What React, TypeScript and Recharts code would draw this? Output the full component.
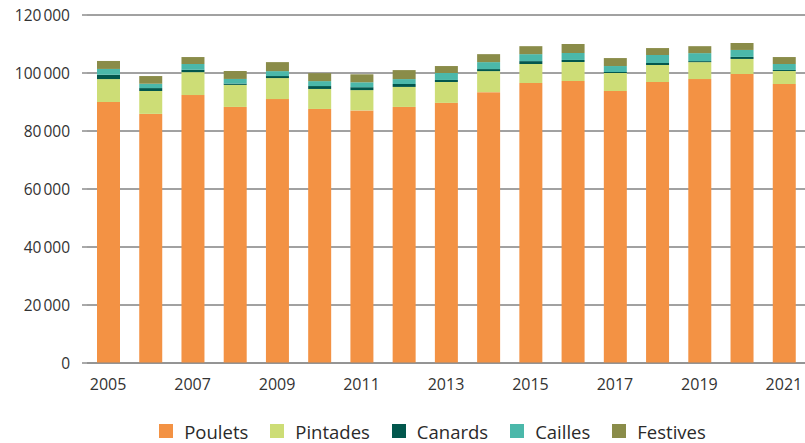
import React from 'react'
import { BarChart, Bar, XAxis, YAxis, CartesianGrid, Legend } from 'recharts'

const years = ['2005', '2006', '2007', '2008', '2009', '2010', '2011', '2012', '2013', '2014', '2015', '2016', '2017', '2018', '2019', '2020', '2021']
const poulets = [90000, 85900, 92400, 88300, 91000, 87600, 87100, 88300, 89700, 93400, 96550, 97250, 93800, 96900, 97900, 99650, 96200]
const pintades = [7900, 7900, 7900, 7600, 7250, 6900, 7000, 6900, 7200, 7250, 6550, 6550, 6200, 5850, 5850, 5200, 4500]
const canards = [1500, 1000, 800, 450, 700, 1000, 1000, 1000, 700, 700, 1000, 700, 350, 700, 350, 700, 350]
const cailles = [2000, 1500, 2000, 1600, 1700, 1700, 1700, 1700, 2400, 2400, 2400, 2400, 2050, 2750, 2750, 2400, 2050]
const festives = [2750, 2650, 2400, 2750, 3100, 2750, 2750, 3100, 2400, 2750, 2750, 3100, 2750, 2400, 2400, 2400, 2400]
const yTicks = [0, 20000, 40000, 60000, 80000, 100000, 120000]

const SERIES = [
  { key: 'Poulets', color: '#F39244' },
  { key: 'Pintades', color: '#CDDD76' },
  { key: 'Canards', color: '#02574D' },
  { key: 'Cailles', color: '#4BB8AA' },
  { key: 'Festives', color: '#8A8C49' },
]

const data = years.map((y, i) => ({
  year: y,
  Poulets: poulets[i],
  Pintades: pintades[i],
  Canards: canards[i],
  Cailles: cailles[i],
  Festives: festives[i],
}))

const FONT = '"Open Sans", sans-serif'

// french thousands separator (narrow space)
const fmt = (v: number) => (v === 0 ? '0' : v.toLocaleString('fr-FR'))

function LegendBox() {
  return (
    <div style={{ height: 50, paddingTop: 26, paddingLeft: 60, boxSizing: 'border-box', display: 'flex', justifyContent: 'center', gap: 22, fontFamily: FONT }}>
      {SERIES.map((s) => (
        <div key={s.key} style={{ display: 'flex', alignItems: 'center', height: 24 }}>
          <span style={{ width: 14, height: 14, background: s.color, display: 'inline-block', marginRight: 11 }} />
          <span style={{ fontSize: 18.5, color: '#2a2a2a' }}>{s.key}</span>
        </div>
      ))}
    </div>
  )
}

export default function App() {
  return (
    <div style={{ width: 805, height: 443 }}>
      <style>{'body{margin:0}'}</style>
      <BarChart width={805} height={443} data={data} margin={{ top: 15, right: 0, bottom: 0, left: 0 }} barSize={23}>
        <CartesianGrid vertical={false} stroke="#444" />
        <XAxis
          dataKey="year"
          interval={1}
          height={30}
          tickLine={false}
          tickSize={6}
          tickMargin={10}
          axisLine={{ stroke: '#888' }}
          tick={{ fill: '#333', fontSize: 16, fontFamily: FONT }}
        />
        <YAxis
          width={87}
          domain={[0, 120000]}
          ticks={yTicks}
          tickFormatter={fmt}
          axisLine={false}
          tickLine={{ stroke: '#555' }}
          tickSize={5}
          tickMargin={12}
          tick={{ fill: '#333', fontSize: 15.5, fontFamily: FONT }}
        />
        <Legend verticalAlign="bottom" height={50} content={() => <LegendBox />} />
        {SERIES.map((s) => (
          <Bar key={s.key} dataKey={s.key} stackId="a" fill={s.color} isAnimationActive={false} />
        ))}
      </BarChart>
    </div>
  )
}
